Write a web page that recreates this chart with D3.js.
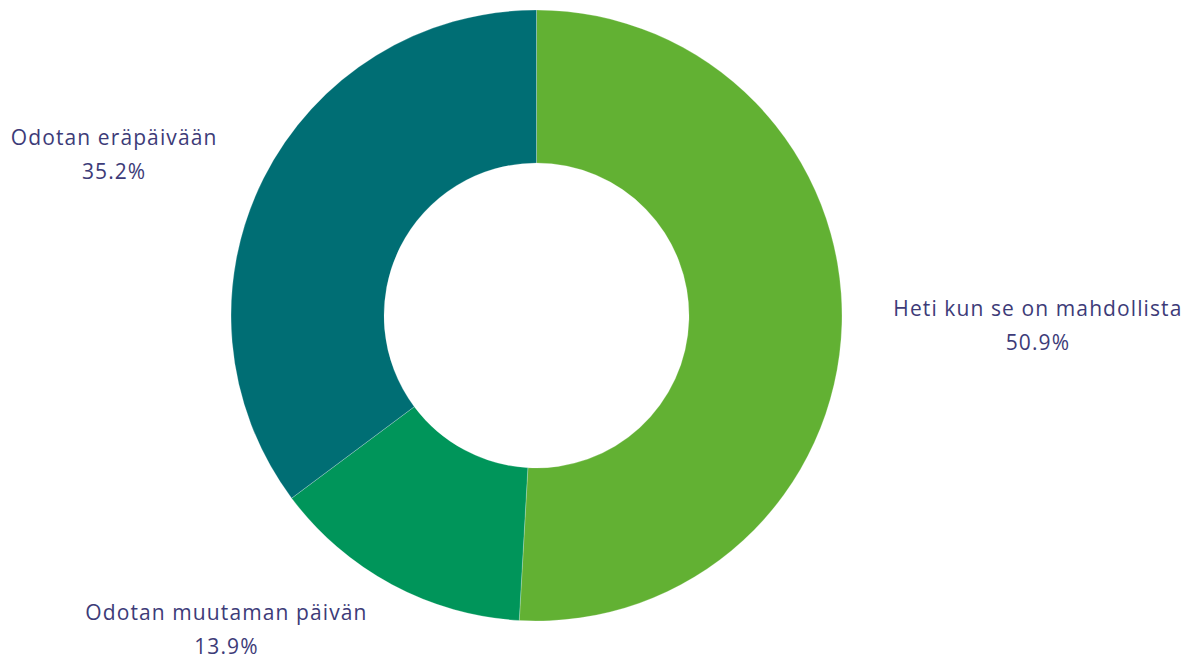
<!DOCTYPE html>
<html><head><meta charset="utf-8">
<script src="https://cdn.jsdelivr.net/npm/d3@7"></script>
<style>html,body{margin:0;padding:0;background:#fff;}svg{display:block;}</style>
</head><body>
<svg id="chart" width="1195" height="660"></svg>
<script>
const categories = ["Heti kun se on mahdollista", "Odotan muutaman päivän", "Odotan eräpäivään"];
const values = [50.9, 13.9, 35.2];
const colors = ["#62b133", "#00955a", "#006e74"];

const W = 1195, H = 660, cx = 536.5, cy = 315.5;
const outerR = 305.5, innerR = 152.5, labelR = 357;
const svg = d3.select("#chart");
const g = svg.append("g").attr("transform", `translate(${cx},${cy})`);

const pie = d3.pie().sort(null).value(d => d.v);
const data = pie(categories.map((c, i) => ({c, v: values[i], col: colors[i]})));
const arc = d3.arc().innerRadius(innerR).outerRadius(outerR);

g.selectAll("path").data(data).join("path")
  .attr("d", arc).attr("fill", d => d.data.col)
  .attr("stroke", "#ffffff").attr("stroke-width", 0.4).attr("stroke-opacity", 0.6);

const fmt = d3.format(".1f");
data.forEach(d => {
  const mid = (d.startAngle + d.endAngle) / 2;
  const ex = Math.sin(mid) * labelR;
  const ey = -Math.cos(mid) * labelR;
  const right = Math.sin(mid) >= 0;
  const t = g.append("text").attr("font-family", "'Open Sans', sans-serif")
    .attr("font-size", 21).attr("letter-spacing", 1.1).attr("fill", "#3d3b78").attr("text-anchor", "middle");
  const l1 = t.append("tspan").text(d.data.c);
  const w = l1.node().getComputedTextLength();
  const x = right ? ex + w / 2 : ex - w / 2;
  l1.attr("x", x).attr("y", ey - 10);
  t.append("tspan").attr("x", x).attr("y", ey + 24).text(fmt(d.data.v) + "%");
});
</script>
</body></html>
